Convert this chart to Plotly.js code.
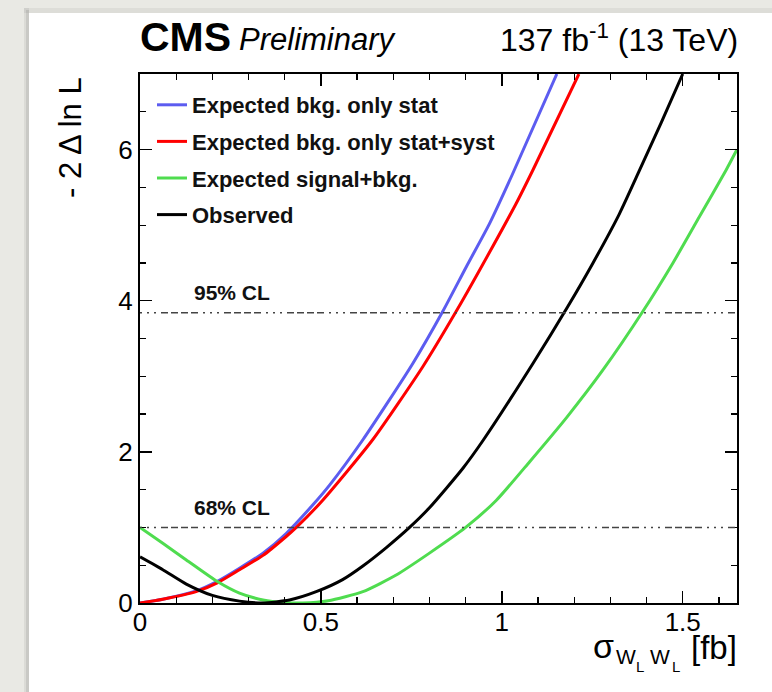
<!DOCTYPE html>
<html>
<head>
<meta charset="utf-8">
<script src="https://cdn.plot.ly/plotly-3.0.1.min.js"></script>
<style>
html,body{margin:0;padding:0;width:772px;height:692px;overflow:hidden;background:#e8e8e3}
#plot{position:absolute;left:0;top:0;width:772px;height:692px}
</style>
</head>
<body>
<div id="plot"></div>
<script>
// ---- data ----
const seriesNames = ["Expected bkg. only stat", "Expected bkg. only stat+syst", "Expected signal+bkg.", "Observed"];

const xBlue = [0, 0.063, 0.155, 0.215, 0.275, 0.34, 0.404, 0.478, 0.524, 0.616, 0.754, 0.837, 0.902, 0.966, 1.030, 1.152];
const yBlue = [0, 0.05, 0.16, 0.29, 0.46, 0.66, 0.92, 1.30, 1.56, 2.16, 3.17, 3.86, 4.45, 5.02, 5.68, 7.0];

const xRed = [0, 0.063, 0.155, 0.215, 0.275, 0.34, 0.404, 0.432, 0.505, 0.643, 0.782, 0.874, 0.938, 1.040, 1.086, 1.213];
const yRed = [0, 0.05, 0.15, 0.27, 0.44, 0.63, 0.88, 1.0, 1.36, 2.16, 3.13, 3.86, 4.40, 5.29, 5.73, 7.0];

const xGreen = [0, 0.063, 0.128, 0.215, 0.275, 0.34, 0.40, 0.45, 0.52, 0.616, 0.708, 0.80, 0.90, 0.985, 1.077, 1.18, 1.279, 1.390, 1.473, 1.546, 1.620, 1.65];
const yGreen = [1.0, 0.79, 0.57, 0.28, 0.13, 0.04, 0.006, 0.0, 0.03, 0.15, 0.37, 0.66, 1.0, 1.36, 1.87, 2.46, 3.08, 3.86, 4.50, 5.11, 5.73, 6.0];

const xBlack = [0, 0.063, 0.128, 0.20, 0.275, 0.34, 0.413, 0.487, 0.56, 0.616, 0.68, 0.745, 0.80, 0.892, 0.948, 1.086, 1.182, 1.252, 1.325, 1.381, 1.44, 1.50];
const yBlack = [0.61, 0.44, 0.25, 0.10, 0.025, 0.0, 0.04, 0.15, 0.31, 0.49, 0.73, 1.0, 1.26, 1.78, 2.15, 3.17, 3.92, 4.50, 5.15, 5.73, 6.35, 7.0];

const clLevels = [1.0, 3.84];
const clLabels = ["68% CL", "95% CL"];

const xTickVals = [0, 0.5, 1, 1.5];
const xTickText = ["0", "0.5", "1", "1.5"];
const yTickVals = [0, 2, 4, 6];
const yTickText = ["0", "2", "4", "6"];

// ---- plot ----
const FONT = "Liberation Sans, Arial, Helvetica, sans-serif";
const colors = ["#5c5cf0", "#ff0000", "#4fdc4f", "#000000"];
const xs = [xBlue, xRed, xGreen, xBlack];
const ys = [yBlue, yRed, yGreen, yBlack];

const traces = seriesNames.map((n, i) => ({
  x: xs[i], y: ys[i], name: n, type: "scatter", mode: "lines",
  line: {color: colors[i], width: 3, shape: "spline", smoothing: 0.6},
  legendgroup: "g" + i, hoverinfo: "skip"
}));

// paper <-> pixel helpers for annotation placement
const L = 140, R = 35, T = 74, B = 89, W = 772, H = 692;
const PW = W - L - R, PH = H - T - B;
const px = v => (v - L) / PW;
const py = v => (H - B - v) / PH;

const shapes = [
  // white sheet + shadow
  {type: "rect", xref: "paper", yref: "paper", x0: px(24), x1: px(29), y0: py(692), y1: py(8), fillcolor: "rgba(0,0,0,0.06)", line: {width: 0}, layer: "below"},
  {type: "rect", xref: "paper", yref: "paper", x0: px(26), x1: px(29), y0: py(692), y1: py(10), fillcolor: "rgba(0,0,0,0.08)", line: {width: 0}, layer: "below"},
  {type: "rect", xref: "paper", yref: "paper", x0: px(24), x1: px(772), y0: py(13), y1: py(8), fillcolor: "rgba(0,0,0,0.05)", line: {width: 0}, layer: "below"},
  {type: "rect", xref: "paper", yref: "paper", x0: px(29), x1: px(772), y0: py(692), y1: py(13), fillcolor: "#ffffff", line: {width: 0}, layer: "below"}
];
clLevels.forEach(v => shapes.push({
  type: "line", xref: "paper", yref: "y", x0: 0, x1: 1, y0: v, y1: v,
  line: {color: "#444444", width: 1.4, dash: "2px,5px,2px,5px,2px,5px,7px,3px,7px,3px,7px,3px,7px,5px"}
}));

const annotations = [
  {text: "<b>CMS</b>", xref: "paper", yref: "paper", x: px(138), y: py(37), xanchor: "left", yanchor: "middle", showarrow: false, font: {family: FONT, size: 41, color: "#000"}},
  {text: "<i>Preliminary</i>", xref: "paper", yref: "paper", x: px(237), y: py(39), xanchor: "left", yanchor: "middle", showarrow: false, font: {family: FONT, size: 31, color: "#000"}},
  {text: "137 fb<sup>-1</sup> (13 TeV)", xref: "paper", yref: "paper", x: px(740), y: py(38), xanchor: "right", yanchor: "middle", showarrow: false, font: {family: FONT, size: 32, color: "#000"}},
  {text: "- 2 Δ ln L", xref: "paper", yref: "paper", x: px(70), y: py(138), xanchor: "center", yanchor: "middle", textangle: -90, showarrow: false, font: {family: FONT, size: 31, color: "#000"}},
  {text: "σ", xref: "paper", yref: "paper", x: px(603), y: py(646), xanchor: "center", yanchor: "middle", showarrow: false, font: {family: FONT, size: 34, color: "#000"}},
  {text: "W", xref: "paper", yref: "paper", x: px(626), y: py(656), xanchor: "center", yanchor: "middle", showarrow: false, font: {family: FONT, size: 21, color: "#000"}},
  {text: "L", xref: "paper", yref: "paper", x: px(640), y: py(666), xanchor: "center", yanchor: "middle", showarrow: false, font: {family: FONT, size: 15, color: "#000"}},
  {text: "W", xref: "paper", yref: "paper", x: px(660), y: py(656), xanchor: "center", yanchor: "middle", showarrow: false, font: {family: FONT, size: 21, color: "#000"}},
  {text: "L", xref: "paper", yref: "paper", x: px(676), y: py(666), xanchor: "center", yanchor: "middle", showarrow: false, font: {family: FONT, size: 15, color: "#000"}},
  {text: "[fb]", xref: "paper", yref: "paper", x: px(739), y: py(647), xanchor: "right", yanchor: "middle", showarrow: false, font: {family: FONT, size: 33, color: "#000"}}
];
clLevels.forEach((v, i) => annotations.push({
  text: "<b>" + clLabels[i] + "</b>", xref: "x", yref: "y", x: 0.145, y: v + 0.27,
  xanchor: "left", yanchor: "middle", showarrow: false, font: {family: FONT, size: 21, color: "#111"}
}));

const layout = {
  width: W, height: H,
  margin: {l: L, r: R, t: T, b: B, pad: 0},
  paper_bgcolor: "#e9e9e4",
  plot_bgcolor: "rgba(0,0,0,0)",
  showlegend: true,
  legend: {
    x: px(152), y: py(84), xanchor: "left", yanchor: "top",
    bgcolor: "rgba(0,0,0,0)", borderwidth: 0,
    font: {family: FONT, size: 22, color: "#111", weight: "bold"},
    traceorder: "grouped", tracegroupgap: 5
  },
  xaxis: {
    range: [0, 1.65], tickvals: xTickVals, ticktext: xTickText,
    ticks: "inside", ticklen: 12, tickwidth: 1.5, tickcolor: "#000",
    minor: {tickvals: [0.1,0.2,0.3,0.4,0.6,0.7,0.8,0.9,1.1,1.2,1.3,1.4,1.6], ticks: "inside", ticklen: 6, tickwidth: 1.2, tickcolor: "#000"},
    showline: true, linewidth: 2, linecolor: "#000", mirror: "ticks",
    showgrid: false, zeroline: false, ticklabelstandoff: -5,
    tickfont: {family: FONT, size: 26, color: "#000"}
  },
  yaxis: {
    range: [0, 7], tickvals: yTickVals, ticktext: yTickText,
    ticks: "inside", ticklen: 12, tickwidth: 1.5, tickcolor: "#000",
    minor: {tickvals: [0.5,1,1.5,2.5,3,3.5,4.5,5,5.5,6.5], ticks: "inside", ticklen: 6, tickwidth: 1.2, tickcolor: "#000"},
    showline: true, linewidth: 2, linecolor: "#000", mirror: "ticks",
    showgrid: false, zeroline: false, ticklabelstandoff: 0,
    tickfont: {family: FONT, size: 26, color: "#000"}
  },
  shapes: shapes,
  annotations: annotations
};

Plotly.newPlot("plot", traces, layout, {staticPlot: true, displayModeBar: false});
</script>
</body>
</html>
